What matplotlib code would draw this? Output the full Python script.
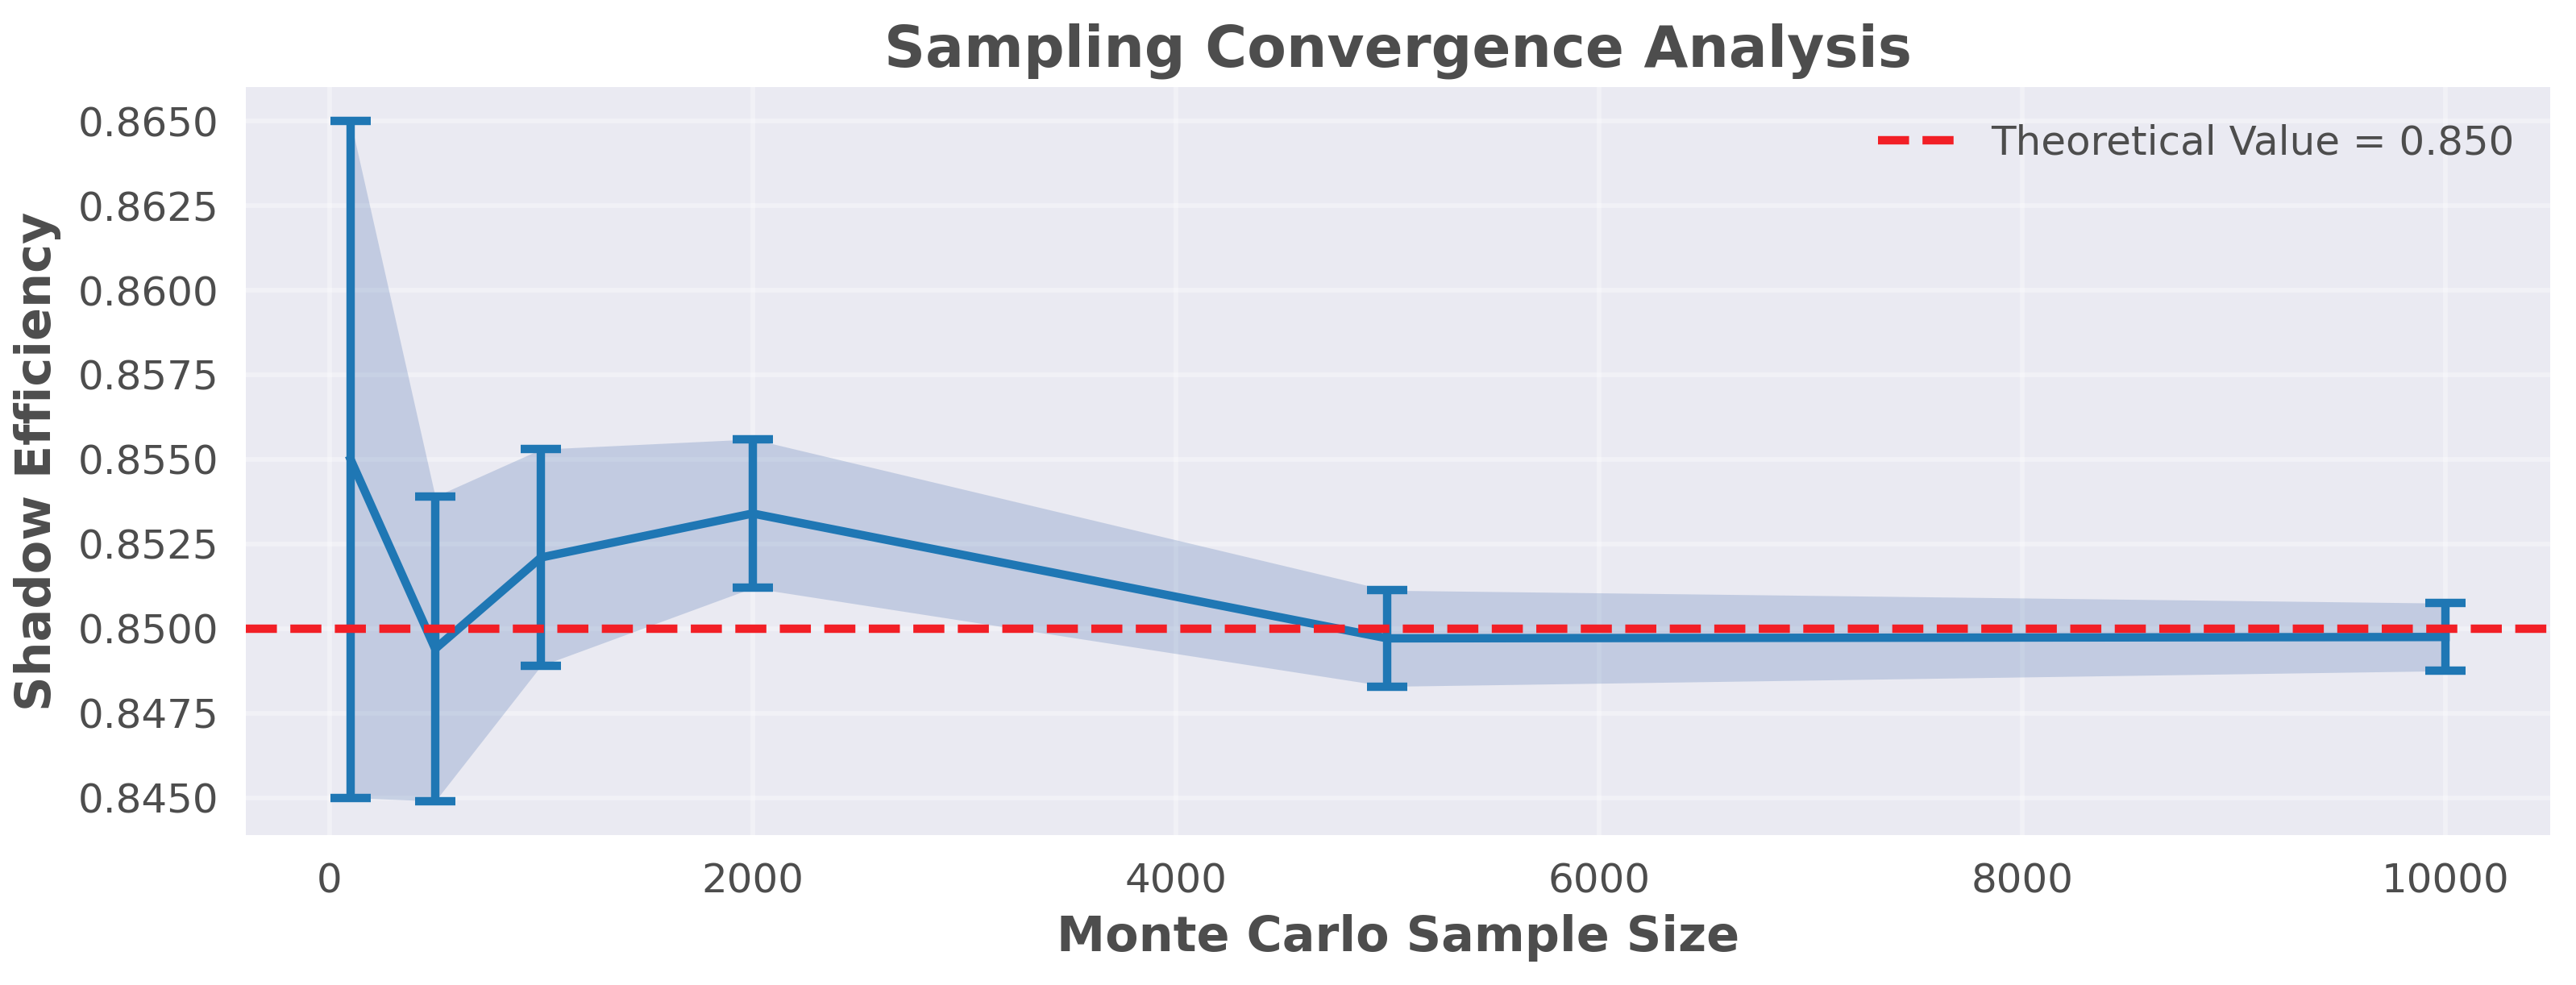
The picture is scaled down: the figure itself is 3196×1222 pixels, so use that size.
import matplotlib
matplotlib.use("Agg")
import matplotlib.pyplot as plt
import numpy as np

# Monte Carlo convergence data
sample_sizes = [100, 500, 1000, 2000, 5000, 10000]
mean_eff = [0.8550, 0.8494, 0.8521, 0.8534, 0.84971, 0.84975]
std_err = [0.0100, 0.0045, 0.0032, 0.0022, 0.00142, 0.0010]
theoretical = 0.850

txt = '#4d4d4d'
plt.rcParams['font.family'] = ['DejaVu Sans']
plt.rcParams['text.color'] = txt
plt.rcParams['axes.labelcolor'] = txt
plt.rcParams['xtick.color'] = txt
plt.rcParams['ytick.color'] = txt

fig = plt.figure(figsize=(3196/300, 1222/300), dpi=300)
ax = fig.add_axes([305/3196, 1-1036/1222, (3164-305)/3196, (1036-108)/1222])
ax.set_facecolor('#eaeaf2')
for s in ax.spines.values():
    s.set_visible(False)
ax.grid(True, color='white', alpha=0.35, linewidth=1.4)
ax.set_axisbelow(True)
ax.tick_params(length=0, labelsize=12, pad=8)

x = np.array(sample_sizes)
m = np.array(mean_eff)
e = np.array(std_err)

ax.fill_between(x, m-e, m+e, color='#4c72b0', alpha=0.25, linewidth=0, zorder=1)
ax.errorbar(x, m, yerr=e, color='#1f77b4', linewidth=2.5, elinewidth=2.5,
            capsize=6, capthick=2.5, zorder=2)
ax.axhline(theoretical, color='#f21f26', linestyle='--', linewidth=2.5,
           label=f'Theoretical Value = {theoretical:.3f}', zorder=3)

ax.set_xlabel('Monte Carlo Sample Size', fontsize=14.5, fontweight='bold', labelpad=4)
ax.set_ylabel('Shadow Efficiency', fontsize=14.5, fontweight='bold', labelpad=5)
ax.set_title('Sampling Convergence Analysis', fontsize=17, fontweight='bold', color=txt)
ax.yaxis.set_major_formatter(matplotlib.ticker.FormatStrFormatter('%.4f'))

leg = ax.legend(loc='upper right', fontsize=12, frameon=False)

fig.savefig('out.png', dpi=300)
